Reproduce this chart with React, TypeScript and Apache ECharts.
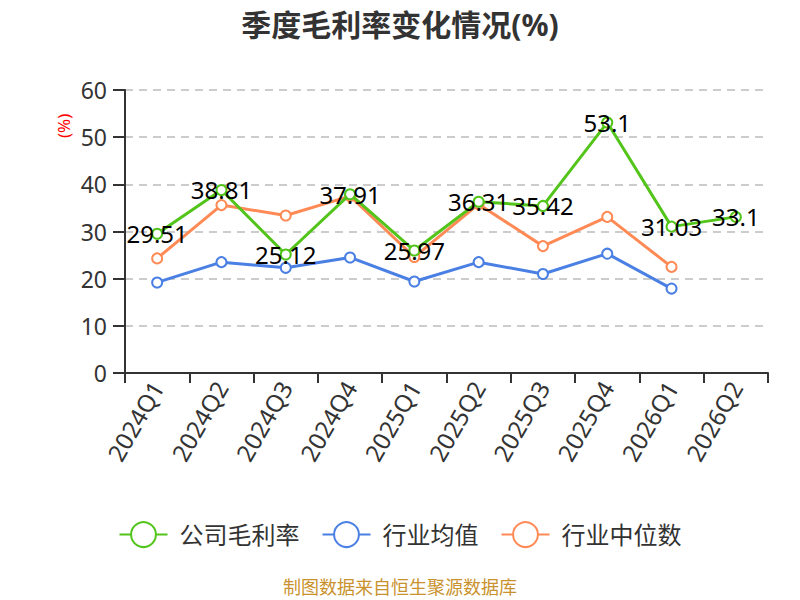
import React, { useEffect, useRef } from "react";
import * as echarts from "echarts";

const categories = ["2024Q1", "2024Q2", "2024Q3", "2024Q4", "2025Q1", "2025Q2", "2025Q3", "2025Q4", "2026Q1", "2026Q2"];
const companyMargin = [29.51, 38.81, 25.12, 37.91, 25.97, 36.31, 35.42, 53.1, 31.03, 33.1];
const industryMean = [19.2, 23.5, 22.3, 24.5, 19.4, 23.5, 21.0, 25.3, 17.9, null];
const industryMedian = [24.3, 35.6, 33.4, 37.5, 24.6, 35.8, 26.9, 33.1, 22.5, null];
const seriesNames = ["公司毛利率", "行业均值", "行业中位数"];
const colors = ["#52c41a", "#4a7fe3", "#ff8a55"];

const FONT = "'Noto Sans', 'Noto Sans CJK SC', sans-serif";

export default function App() {
  const ref = useRef<HTMLDivElement>(null);
  useEffect(() => {
    document.body.style.margin = "0";
    if (!ref.current) return;
    const chart = echarts.init(ref.current, undefined, { renderer: "svg" });
    const mk = (name: string, data: (number | null)[], color: string, showLabel: boolean) => ({
      name,
      type: "line",
      data,
      symbol: "emptyCircle",
      symbolSize: 10,
      lineStyle: { color, width: 3 },
      itemStyle: { color, borderWidth: 2 },
      label: {
        show: showLabel,
        position: "inside",
        color: "#000",
        fontSize: 24,
        fontFamily: FONT,
      },
      z: showLabel ? 3 : 2,
    });
    chart.setOption({
      animation: false,
      textStyle: { fontFamily: FONT },
      color: colors,
      title: {
        text: "季度毛利率变化情况(%)",
        left: "center",
        top: 4,
        textStyle: { fontSize: 30, fontWeight: "bold", color: "#333", fontFamily: FONT },
      },
      legend: {
        bottom: 47,
        left: "center",
        itemWidth: 48,
        itemHeight: 31,
        itemGap: 22,
        data: seriesNames,
        lineStyle: { width: 2 },
        textStyle: { fontSize: 24, color: "#333", fontFamily: FONT, padding: [0, 0, 0, 7] },
      },
      grid: { left: 125, right: 32, top: 90, bottom: 227, containLabel: false },
      xAxis: {
        type: "category",
        data: categories,
        boundaryGap: true,
        axisLine: { lineStyle: { color: "#333", width: 2 } },
        axisTick: { show: true, length: 10, lineStyle: { color: "#333", width: 2 } },
        axisLabel: { rotate: 60, fontSize: 24, color: "#333", margin: 10, fontFamily: FONT },
      },
      yAxis: {
        type: "value",
        min: 0,
        max: 60,
        interval: 10,
        axisLine: { show: true, lineStyle: { color: "#333", width: 2 } },
        axisTick: { show: true, length: 12, lineStyle: { color: "#333", width: 2 } },
        axisLabel: { fontSize: 23, color: "#333", margin: 18, fontFamily: FONT },
        splitLine: { show: true, lineStyle: { color: "#ccc", type: [8, 6], width: 2 } },
      },
      graphic: [
        {
          type: "text",
          x: 55,
          y: 138,
          rotation: Math.PI / 2,
          style: { text: "(%)", fill: "#ff0000", fontSize: 17, fontFamily: FONT },
        },
        {
          type: "text",
          left: "center",
          top: 578,
          style: { text: "制图数据来自恒生聚源数据库", fill: "#c9922e", fontSize: 18, fontFamily: FONT },
        },
      ],
      series: [
        mk(seriesNames[0], companyMargin, colors[0], true),
        mk(seriesNames[1], industryMean, colors[1], false),
        mk(seriesNames[2], industryMedian, colors[2], false),
      ],
    });
    return () => chart.dispose();
  }, []);
  return <div ref={ref} style={{ width: 800, height: 600 }} />;
}
